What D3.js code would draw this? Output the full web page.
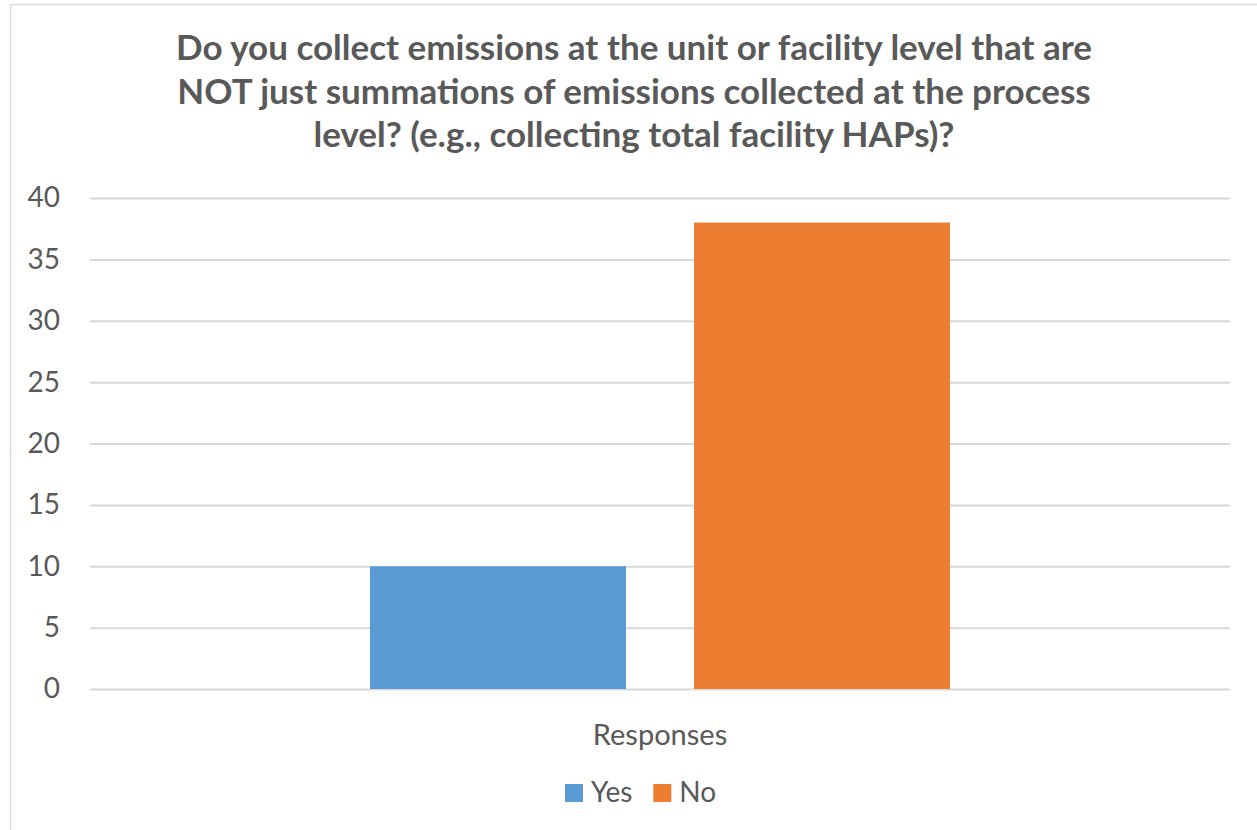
<!DOCTYPE html>
<html>
<head>
<meta charset="utf-8">
<script src="https://cdn.jsdelivr.net/npm/d3@7"></script>
<style>
  body { margin: 0; background: #fff; }
  svg { display: block; font-family: Lato, "Open Sans", sans-serif; }
</style>
</head>
<body>
<div id="chart"></div>
<script>
// datos del gráfico
const categories = ['Responses'];
const seriesNames = ['Yes', 'No'];
const seriesValues = [10, 38];
const seriesColors = ['#5b9bd5', '#ed7d31'];
const yTicks = [0, 5, 10, 15, 20, 25, 30, 35, 40];
const titleLines = [
    'Do you collect emissions at the unit or facility level that are',
    'NOT just summations of emissions collected at the process',
    'level? (e.g., collecting total facility HAPs)?'
];

const width = 1257, height = 830;
const margin = {top: 198, right: 27, bottom: 141, left: 90};
const textColor = '#595959';

let svg = d3.select('#chart')
    .append('svg')
    .attr('width', width)
    .attr('height', height);

// marco del gráfico
svg.append('rect')
    .attr('x', 10.5).attr('y', 4.5)
    .attr('width', 1300).attr('height', 900)
    .attr('fill', 'none')
    .attr('stroke', '#d9d9d9')
    .attr('stroke-width', 1.5);

// título
svg.append('text')
    .attr('text-anchor', 'middle')
    .attr('font-weight', 'bold')
    .attr('font-size', 35)
    .attr('fill', textColor)
    .selectAll('tspan')
    .data(titleLines)
    .enter()
    .append('tspan')
    .attr('x', 634)
    .attr('y', function(d, i) { return 60 + i * 43.5; })
    .text(function(d) { return d; });

// escalas
let x0 = d3.scaleBand()
    .domain(categories)
    .range([margin.left, width - margin.right]);

let x1 = d3.scaleBand()
    .domain(seriesNames)
    .range([0, x0.bandwidth()])
    .paddingInner(68 / 324)
    .paddingOuter(0.864);

let y = d3.scaleLinear()
    .domain([0, 40])
    .range([height - margin.bottom, margin.top]);

// eje Y con rejilla
let yAxis = function(g) {
    g.call(d3.axisLeft(y).tickValues(yTicks).tickSize(-(width - margin.left - margin.right)).tickPadding(30));
    g.call(function(g) { g.select('.domain').remove(); });
    g.selectAll('.tick line').attr('stroke', '#d9d9d9').attr('stroke-width', 2);
    g.selectAll('.tick text')
        .attr('fill', textColor)
        .attr('font-size', 28)
        .attr('font-family', 'Lato, "Open Sans", sans-serif');
};

svg.append('g')
    .attr('transform', 'translate(' + margin.left + ',0)')
    .call(yAxis);

// barras
let groups = svg.selectAll('.cat')
    .data(categories)
    .enter()
    .append('g')
    .attr('class', 'cat')
    .attr('transform', function(d) { return 'translate(' + x0(d) + ',0)'; });

groups.selectAll('rect')
    .data(seriesNames.map(function(s, i) { return {key: s, value: seriesValues[i], color: seriesColors[i]}; }))
    .enter()
    .append('rect')
    .attr('x', function(d) { return x1(d.key); })
    .attr('y', function(d) { return y(d.value); })
    .attr('width', x1.bandwidth())
    .attr('height', function(d) { return y(0) - y(d.value); })
    .attr('fill', function(d) { return d.color; });

// eje X (solo etiqueta de categoría)
let xAxis = function(g) {
    g.call(d3.axisBottom(x0).tickSize(0).tickPadding(35));
    g.call(function(g) { g.select('.domain').remove(); });
    g.selectAll('.tick text')
        .attr('fill', textColor)
        .attr('font-size', 29)
        .attr('font-family', 'Lato, "Open Sans", sans-serif');
};

svg.append('g')
    .attr('transform', 'translate(0,' + y(0) + ')')
    .call(xAxis);

// leyenda
let legend = svg.append('g').attr('class', 'legend');
let lx = 565;
seriesNames.forEach(function(s, i) {
    let item = legend.append('g').attr('transform', 'translate(' + lx + ',784)');
    item.append('rect')
        .attr('width', 18).attr('height', 18)
        .attr('fill', seriesColors[i]);
    let t = item.append('text')
        .attr('x', 26).attr('y', 18)
        .attr('font-size', 28)
        .attr('fill', textColor)
        .text(s);
    lx += 26 + t.node().getComputedTextLength() + 21;
});
</script>
</body>
</html>
